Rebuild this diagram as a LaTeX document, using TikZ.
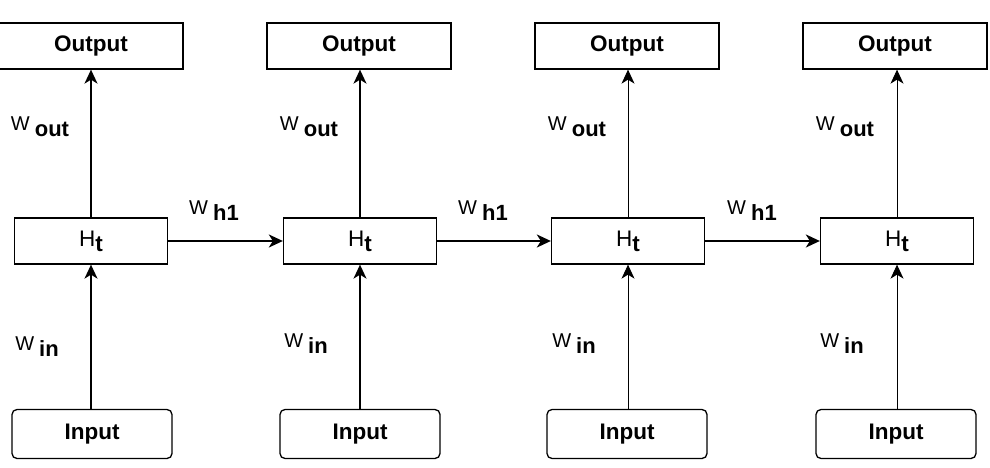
\documentclass[tikz,border=0pt]{standalone}
\usepackage{fontspec}
\setmainfont{Liberation Sans}
\usetikzlibrary{arrows.meta}
% weight label: plain W with a bold, lowered index
\newcommand\wlabel[1]{W\hspace{5pt}\raisebox{-6pt}{\fontsize{22}{26}\selectfont\bfseries #1}}
\begin{document}
\begin{tikzpicture}[x=1pt,y=-1pt,
  box/.style={draw, line width=1.3pt, minimum height=46pt, inner sep=0pt,
    font=\fontsize{22.5}{26}\selectfont\bfseries},
  outbox/.style={box, minimum width=184pt},
  hbox/.style={box, minimum width=153pt},
  inbox/.style={box, rounded corners=5pt, minimum width=160pt, minimum height=49pt},
  lbl/.style={font=\fontsize{20}{24}\selectfont, inner sep=0pt},
  tip/.style={-{Stealth[length=14pt,width=13pt,inset=4pt]}},
  thick link/.style={tip, line width=1.6pt},
  thin link/.style={tip, line width=1pt},
  side link/.style={tip, line width=2pt}]
\useasboundingbox (0,0) rectangle (990,468);

% output layer
\node[outbox] (o1) at (91,46)  {Output};
\node[outbox] (o2) at (359,46) {Output};
\node[outbox] (o3) at (627,46) {Output};
\node[outbox] (o4) at (895,46) {Output};

% hidden states
\node[hbox] (h1) at (91,241)  {\mdseries H\raisebox{-5pt}{\bfseries t}};
\node[hbox] (h2) at (360,241) {\mdseries H\raisebox{-5pt}{\bfseries t}};
\node[hbox] (h3) at (628,241) {\mdseries H\raisebox{-5pt}{\bfseries t}};
\node[hbox] (h4) at (897,241) {\mdseries H\raisebox{-5pt}{\bfseries t}};

% inputs
\node[inbox] (i1) at (92,434)  {Input};
\node[inbox] (i2) at (360,434) {Input};
\node[inbox] (i3) at (627,434) {Input};
\node[inbox] (i4) at (896,434) {Input};

% input -> hidden -> output
\draw[thick link] (i1.north -| h1) -- (h1.south);
\draw[thick link] (h1.north) -- (o1.south -| h1);
\draw[thick link] (i2.north -| h2) -- (h2.south);
\draw[thick link] (h2.north) -- (o2.south -| h2);
\draw[thin link] (i3.north -| h3) -- (h3.south);
\draw[thin link] (h3.north) -- (o3.south -| h3);
\draw[thin link] (i4.north -| h4) -- (h4.south);
\draw[thin link] (h4.north) -- (o4.south -| h4);

% recurrent links
\draw[side link] (h1.east) -- (h2.west);
\draw[side link] (h2.east) -- (h3.west);
\draw[side link] (h3.east) -- (h4.west);

% weight labels
\node[lbl] (wo1) at (40,127)  {\wlabel{out}};
\node[lbl] (wo2) at (309,127) {\wlabel{out}};
\node[lbl] (wo3) at (577,127) {\wlabel{out}};
\node[lbl] (wo4) at (845,127) {\wlabel{out}};
\node[lbl] (wi1) at (37,347)  {\wlabel{in}};
\node[lbl] (wi2) at (306,344) {\wlabel{in}};
\node[lbl] (wi3) at (574,344) {\wlabel{in}};
\node[lbl] (wi4) at (842,344) {\wlabel{in}};
\node[lbl] (wh1) at (214,211) {\wlabel{h1}};
\node[lbl] (wh2) at (483,211) {\wlabel{h1}};
\node[lbl] (wh3) at (752,211) {\wlabel{h1}};
\end{tikzpicture}
\end{document}
